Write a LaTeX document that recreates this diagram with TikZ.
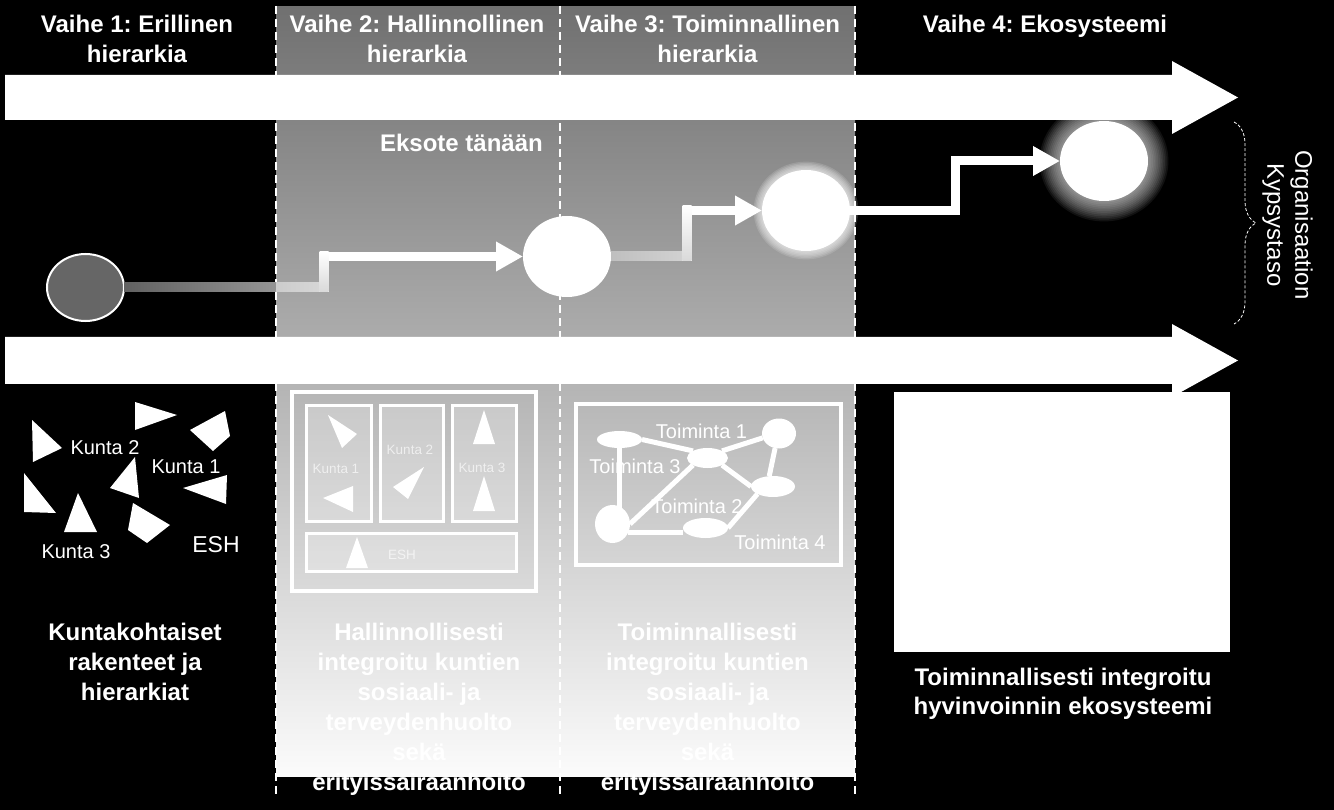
\documentclass[tikz,border=0pt]{standalone}
\usepackage{fontspec}
\setmainfont{Liberation Sans}
\usetikzlibrary{shapes.geometric,arrows.meta,decorations.pathreplacing,calc}
\definecolor{gtop}{gray}{0.44}
\definecolor{gbot}{gray}{0.985}
\definecolor{cfill}{gray}{0.40}
\frenchspacing
\begin{document}
\begin{tikzpicture}[x=1pt,y=-1pt,
  hdr/.style={text=white,font=\bfseries\fontsize{24}{30}\selectfont,align=center,inner sep=0pt,anchor=north},
  body/.style={text=white,font=\bfseries\fontsize{24}{30}\selectfont,align=center,inner sep=0pt,anchor=north},
  lbl/.style={text=white,font=\fontsize{20}{24}\selectfont,inner sep=0pt},
  smalllbl/.style={text=white,text opacity=0.65,font=\fontsize{13.5}{16}\selectfont,inner sep=0pt},
  dashline/.style={white,line width=1.6pt,dash pattern=on 8pt off 5pt},
  bigarrow/.style={fill=white},
  stage/.style={ellipse,fill=white,inner sep=0pt,outer sep=0pt},
  conn/.style={white,line width=9pt,line join=miter,-{Triangle[length=27pt,width=28pt]}},
  netnode/.style={ellipse,fill=white,inner sep=0pt,outer sep=0pt},
  netedge/.style={white,line width=5pt},
  inbox/.style={draw=white,line width=3pt,fill=white,fill opacity=0.25},
  tri/.style={fill=white},
]
\useasboundingbox (0,0) rectangle (1334,810);
\fill[black] (0,0) rectangle (1334,810);
% gray panel
\shade[top color=gtop,bottom color=gbot] (276,7) rectangle (855,776);
% dashed separators
\draw[dashline] (276,6) -- (276,796);
\draw[dashline] (560,6) -- (560,796);
\draw[dashline] (855,6) -- (855,796);
% big arrows
\fill[bigarrow] (5,75) -- (1172,75) -- (1172,61) -- (1238,97.5) -- (1172,134) -- (1172,120) -- (5,120) -- cycle;
\fill[bigarrow] (5,337) -- (1172,337) -- (1172,324) -- (1238,360.5) -- (1172,397) -- (1172,384) -- (5,384) -- cycle;
% headers
\node[hdr] (h1) at (137,15) {Vaihe 1: Erillinen\\hierarkia};
\node[hdr] (h2) at (417,15) {Vaihe 2: Hallinnollinen\\hierarkia};
\node[hdr] (h3) at (707.5,15) {Vaihe 3: Toiminnallinen\\hierarkia};
\node[hdr] (h4) at (1045,15) {Vaihe 4: Ekosysteemi};
\node[hdr,anchor=north east] (eks) at (543,134) {Eksote tänään};
% stage centres and glows
\coordinate (c1p) at (85.5,287.5);
\coordinate (c2p) at (567,256.5);
\coordinate (c3p) at (806,210.5);
\coordinate (c4p) at (1104,161);
\foreach \i in {1,...,6} \fill[white,opacity=0.14] (c3p) ellipse [x radius={(44+1.4*\i)*1pt}, y radius={(40.5+1.4*\i)*1pt}];
\foreach \i in {1,...,12} \fill[white,opacity=0.065] (c4p) ellipse [x radius={(44+1.7*\i)*1pt}, y radius={(40+1.7*\i)*1pt}];
\node[stage,fill=cfill,draw=white,line width=2pt,minimum width=77pt,minimum height=67pt] (c1) at (c1p) {};
\node[stage,minimum width=88pt,minimum height=81pt] (c2) at (c2p) {};
\node[stage,minimum width=88pt,minimum height=81pt] (c3) at (c3p) {};
\node[stage,minimum width=88pt,minimum height=80pt] (c4) at (c4p) {};
% connectors
\draw[conn] (c1.east) -| (324,270) |- (c2.west);
\shade[left color={black!62}, right color={black!42}] (124,283) rectangle (276,292);
\shade[left color={black!20}, right color={black!16}] (276,283) rectangle (319.5,292);
\shade[top color=white, bottom color={black!15}] (319.5,252) rectangle (328.5,292);
\draw[conn] (c2.east) -| (687,230) |- (c3.west);
\shade[left color={black!25}, right color={black!18}] (611,252) rectangle (682.5,261);
\shade[top color=white, bottom color={black!15}] (682.5,206) rectangle (691.5,261);
\draw[conn] (c3.east) -| (955.5,185) |- (c4.west);
% brace and rotated label
\draw[white,line width=0.8pt,dash pattern=on 3pt off 2pt,decorate,decoration={brace,amplitude=22pt}] (1234,122) -- (1234,324);
\node[text=white,font=\fontsize{24}{28}\selectfont,align=center,inner sep=0pt,rotate=-90,anchor=north] (org) at (1313,225) {Organisaation\\Kypsystaso};
% stage 1 shapes
\fill[tri] (32,420) -- (62,448) -- (33,462) -- cycle;
\fill[tri] (135,402) -- (177,415) -- (135,430) -- cycle;
\fill[tri] (190,430) -- (225,411) -- (230,436) -- (213,451) -- cycle;
\fill[tri] (110,488) -- (135,457) -- (139,498) -- cycle;
\fill[tri] (24,473) -- (56,513) -- (24,512) -- cycle;
\fill[tri] (78,493) -- (97,532) -- (64,532) -- cycle;
\fill[tri] (133,503) -- (170,525) -- (147,543) -- (128,530) -- cycle;
\fill[tri] (183,488) -- (227,475) -- (226,504) -- cycle;
\node[lbl] (k2) at (105,448) {Kunta 2};
\node[lbl] (k1) at (186,467) {Kunta 1};
\node[lbl] (k3) at (76,552) {Kunta 3};
\node[lbl,font=\fontsize{23}{26}\selectfont] (esh) at (216,545) {ESH};
% stage 2 box
\draw[white,line width=4pt] (292,392) rectangle (536,591);
\draw[inbox] (306.5,405.5) rectangle (371.5,521.5);
\draw[inbox] (380.5,405.5) rectangle (443.5,521.5);
\draw[inbox] (452.5,405.5) rectangle (516.5,521.5);
\draw[inbox] (306.5,533.5) rectangle (516.5,571.5);
\fill[tri] (328,415) -- (357,434) -- (342,448) -- cycle;
\fill[tri] (323,498) -- (353,486) -- (353,512) -- cycle;
\fill[tri] (393,487) -- (424,467) -- (408,499) -- cycle;
\fill[tri] (484,410) -- (495,444) -- (473,444) -- cycle;
\fill[tri] (484,476) -- (495,511) -- (473,511) -- cycle;
\fill[tri] (357,537) -- (368,568) -- (346,568) -- cycle;
\node[smalllbl] (s1) at (336,469) {Kunta 1};
\node[smalllbl] (s2) at (410,450) {Kunta 2};
\node[smalllbl] (s3) at (482,468) {Kunta 3};
\node[smalllbl] (s4) at (402,555) {ESH};
% stage 3 box
\draw[white,line width=4pt] (576,404) rectangle (841,565);
\node[lbl] (t1) at (701.5,431) {Toiminta 1};
\node[lbl] (t3) at (635,466) {Toiminta 3};
\node[lbl] (t2) at (697,506) {Toiminta 2};
\node[lbl] (t4) at (780,542) {Toiminta 4};
\node[netnode,minimum width=45pt,minimum height=17pt] (n1) at (619.5,439.5) {};
\node[netnode,minimum width=41pt,minimum height=20pt] (n2) at (707.5,458) {};
\node[netnode,minimum width=34pt,minimum height=30pt] (n3) at (779,433.5) {};
\node[netnode,minimum width=44pt,minimum height=21pt] (n4) at (773,486.5) {};
\node[netnode,minimum width=35pt,minimum height=38pt] (n5) at (612.5,524) {};
\node[netnode,minimum width=45pt,minimum height=20pt] (n6) at (705.5,528) {};
\draw[netedge] (n1.east) -- (n2.north west);
\draw[netedge] (n2.north east) -- (n3.195);
\draw[netedge] (n3.255) -- (n4.110);
\draw[netedge] (n2.south east) -- (n4.west);
\draw[netedge] (n1.south) -- ($(n5.north -| n1.south)+(0,3)$);
\draw[netedge] (n5.east) -- (n2.south west);
\draw[netedge] (n5.-30) -- (n5.-30 -| n6.west);
\draw[netedge] (n6.east) -- (n4.south west);
% stage 4 box
\fill[white] (894,392) rectangle (1230,652);
% bottom texts
\node[body] (b1) at (135,622.5) {Kuntakohtaiset\\rakenteet ja\\hierarkiat};
\node[body] (b2) at (419,622.5) {Hallinnollisesti\\integroitu kuntien\\sosiaali- ja\\terveydenhuolto\\sekä\\erityissairaanhoito};
\node[body] (b3) at (707.5,622.5) {Toiminnallisesti\\integroitu kuntien\\sosiaali- ja\\terveydenhuolto\\sekä\\erityissairaanhoito};
\node[body,font=\bfseries\fontsize{24}{29}\selectfont] (b4) at (1063,667.5) {Toiminnallisesti integroitu\\hyvinvoinnin ekosysteemi};
\end{tikzpicture}
\end{document}
